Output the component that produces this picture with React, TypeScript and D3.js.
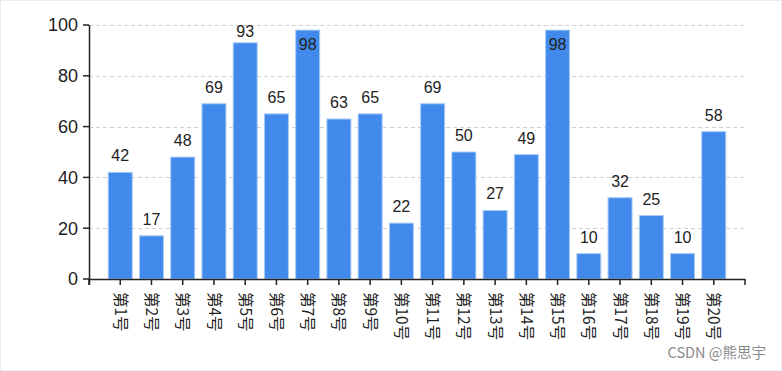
import React, { useRef, useEffect } from "react";
import * as d3 from "d3";

const categories = [
  "第1号", "第2号", "第3号", "第4号", "第5号", "第6号", "第7号", "第8号", "第9号", "第10号",
  "第11号", "第12号", "第13号", "第14号", "第15号", "第16号", "第17号", "第18号", "第19号", "第20号",
];
const values = [42, 17, 48, 69, 93, 65, 98, 63, 65, 22, 69, 50, 27, 49, 98, 10, 32, 25, 10, 58];
const yTicks = [0, 20, 40, 60, 80, 100];

const W = 782;
const H = 371;
const margin = { left: 89, right: 37, top: 25, bottom: 92 };

const App: React.FC = () => {
  const svgRef = useRef<SVGSVGElement>(null);

  useEffect(() => {
    if (!svgRef.current) return;
    const svg = d3.select(svgRef.current);
    svg.selectAll("*").remove();

    const x0 = margin.left;
    const x1 = W - margin.right;
    const y0 = H - margin.bottom;
    const yTop = margin.top;

    const x = d3.scalePoint<string>().domain(categories).range([x0, x1]).padding(1);
    const y = d3.scaleLinear().domain([0, 100]).range([y0, yTop]);
    const barW = 24;

    // frame
    svg.append("rect").attr("x", 0.5).attr("y", 0.5).attr("width", W - 1).attr("height", H - 1)
      .attr("fill", "#fff").attr("stroke", "#ececec");

    // grid
    svg.append("g").selectAll("line").data(yTicks.filter((t) => t > 0)).enter().append("line")
      .attr("x1", x0).attr("x2", x1)
      .attr("y1", (d) => Math.round(y(d)) + 0.5).attr("y2", (d) => Math.round(y(d)) + 0.5)
      .attr("stroke", "#d0d0d0").attr("stroke-dasharray", "4,3");

    // bars
    svg.append("g").selectAll("rect").data(values).enter().append("rect")
      .attr("x", (_, i) => x(categories[i])! - barW / 2)
      .attr("y", (d) => y(d))
      .attr("width", barW)
      .attr("height", (d) => y0 - y(d))
      .attr("fill", "#418AEC")
      .attr("stroke", "#a9cbf5")
      .attr("stroke-width", 1);

    // value labels (outside the bar, kept inside the plot area; inside the bar when no room)
    const labelY = (d: number) => {
      const top = y(d);
      if (d >= 97) return top + 20;
      return Math.max(top - 11, yTop + 12);
    };
    svg.append("g").selectAll("text").data(values).enter().append("text")
      .attr("x", (_, i) => x(categories[i])!)
      .attr("y", labelY)
      .attr("text-anchor", "middle")
      .style("font-family", "'Liberation Sans', Arial, sans-serif")
      .style("font-size", "16px")
      .style("fill", "#222")
      .text((d) => d);

    // y axis
    const ya = svg.append("g");
    ya.append("line").attr("x1", x0 + 0.5).attr("x2", x0 + 0.5).attr("y1", yTop).attr("y2", y0 + 6)
      .attr("stroke", "#222").attr("stroke-width", 1.5);
    yTicks.forEach((t) => {
      ya.append("line").attr("x1", x0 - 6).attr("x2", x0).attr("y1", y(t)).attr("y2", y(t))
        .attr("stroke", "#222").attr("stroke-width", 1.5);
      ya.append("text").attr("x", x0 - 11).attr("y", y(t)).attr("dy", "0.36em")
        .attr("text-anchor", "end")
        .style("font-family", "'Liberation Sans', Arial, sans-serif")
        .style("font-size", "18px").style("fill", "#222").text(t);
    });

    // x axis
    const xa = svg.append("g");
    xa.append("line").attr("x1", x0).attr("x2", x1).attr("y1", y0 + 0.5).attr("y2", y0 + 0.5)
      .attr("stroke", "#222").attr("stroke-width", 1.5);
    [x0, ...categories.map((c) => x(c)!), x1].forEach((px) => {
      xa.append("line").attr("x1", px).attr("x2", px).attr("y1", y0).attr("y2", y0 + 6)
        .attr("stroke", "#222").attr("stroke-width", 1.5);
    });
    categories.forEach((c) => {
      xa.append("text")
        .attr("transform", `translate(${x(c)},${y0 + 13}) rotate(90)`)
        .attr("dy", "0.35em")
        .style("font-family", "'Noto Sans CJK SC', 'Liberation Sans', sans-serif")
        .style("font-size", "15.5px").style("fill", "#222").text(c);
    });

    // watermark
    svg.append("text").attr("x", 766).attr("y", 358).attr("text-anchor", "end")
      .style("font-family", "'Noto Sans CJK SC', 'Liberation Sans', sans-serif")
      .style("font-size", "14.5px").style("fill", "#8a8a8a").text("CSDN @熊思宇");
  }, []);

  return (
    <div style={{ position: "absolute", left: 0, top: 0 }}>
      <svg ref={svgRef} width={W} height={H} style={{ display: "block" }} />
    </div>
  );
};

export default App;
